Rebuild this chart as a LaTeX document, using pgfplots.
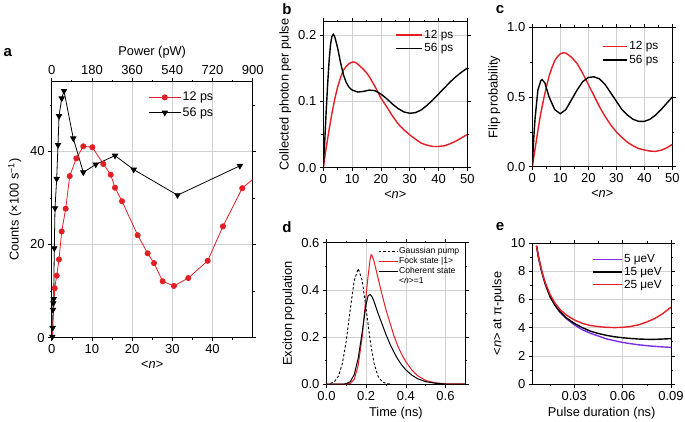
\documentclass[border=0pt]{standalone}
\usepackage{fontspec}
\setmainfont{Liberation Sans}
\usepackage{pgfplots}
\pgfplotsset{compat=1.18}
\definecolor{myred}{RGB}{228,30,37}
\definecolor{mypurple}{RGB}{125,45,225}
\pgfplotsset{
  base/.style={
    scale only axis,
    axis line style={black, line width=0.6pt},
    tick align=outside,
    major tick length=3.5pt,
    minor tick length=2pt,
    every tick/.style={black, line width=0.6pt},
    grid=major,
    major grid style={black!18, line width=0.6pt},
    tick label style={font=\fontsize{13}{13}\selectfont},
    label style={font=\fontsize{12.8}{14}\selectfont},
    /pgf/number format/assume math mode=true,
    legend cell align=left,
    legend style={draw=none, fill=none, inner sep=0pt, font=\fontsize{11.8}{12}\selectfont,
      nodes={inner sep=1.5pt}},
  },
  oneDec/.style={/pgf/number format/fixed, /pgf/number format/fixed zerofill, /pgf/number format/precision=1},
  twoDec/.style={/pgf/number format/fixed, /pgf/number format/fixed zerofill, /pgf/number format/precision=2},
}
\begin{document}
\begin{tikzpicture}
\path[use as bounding box] (0,0) rectangle (685pt,-421pt);

% ---------------- panel a ----------------
\begin{axis}[base, at={(51.7pt,-337.6pt)}, anchor=south west, width=201pt, height=256pt,
  xmin=0, xmax=50, ymin=0, ymax=55,
  xtick={0,10,20,30,40}, minor xtick={5,15,25,35,45},
  ytick={0,20,40}, minor ytick={10,30,50},
  xtick pos=left,
  xlabel={<\textit{n}>}, ylabel={Counts (×100 s\textsuperscript{−1})},
  ylabel style={yshift=2pt},
  legend style={at={(0.48,0.965)}, anchor=north west, font=\fontsize{12.5}{13}\selectfont, row sep=2pt},
  legend image code/.code={\draw[mark repeat=2,mark phase=2,#1] plot coordinates {(0pt,0pt) (16pt,0pt) (32pt,0pt)};},
]
\addplot[myred, line width=0.8pt, mark=*, mark size=2.6pt, mark options={solid, fill=myred, draw=myred}] coordinates {
 (0.75,10.6) (1.24,13.3) (1.82,16.8) (2.49,22.8) (3.48,27.7) (4.48,34.7) (6.12,38.5) (7.86,41.1)
 (10.1,40.9) (12.84,37.3) (14.68,35.0) (15.75,32.2) (17.49,29.3) (21.39,22.0) (23.88,18.1)
 (25.45,16.0) (27.6,12.1) (30.4,11.1) (33.98,12.8) (38.8,16.5) (42.6,23.9) (47.4,32.1)
};
\addlegendentry{12 ps}
\addplot[black, line width=0.8pt, mark=triangle*, mark size=3pt, mark options={solid, rotate=180, fill=black}] coordinates {
 (0.15,0.2) (0.25,2.1) (0.32,6.0) (0.4,7.4) (0.5,8.3) (0.65,19.2) (0.82,27.8) (1.24,34.1)
 (1.57,41.4) (1.82,47.6) (2.49,51.4) (3.06,53.0) (5.37,42.8) (7.86,35.5) (10.95,37.2)
 (15.75,39.1) (20.4,36.1) (31.3,30.6) (46.8,36.9)
};
\addlegendentry{56 ps}
\addplot[myred, line width=0.8pt, forget plot] coordinates {(0.15,0.2) (0.75,10.6)};
\addplot[myred, line width=0.8pt, forget plot] coordinates {(47.4,32.1) (50,34.0)};
\end{axis}
\begin{axis}[base, at={(51.7pt,-337.6pt)}, anchor=south west, width=201pt, height=256pt,
  xmin=0, xmax=900, ymin=0, ymax=55, grid=none,
  axis x line*=top, axis y line=none,
  xtick={0,180,...,900}, minor xtick={90,270,450,630,810},
  xlabel={Power (pW)},
]
\addplot[draw=none, forget plot] coordinates {(0,0) (900,55)};
\end{axis}

% ---------------- panel b ----------------
\begin{axis}[base, at={(323.3pt,-167.7pt)}, anchor=south west, width=144pt, height=146pt,
  xmin=0, xmax=50, ymin=0, ymax=0.22,
  xtick={0,10,...,50}, minor xtick={5,15,...,45},
  ytick={0,0.1,0.2}, minor ytick={0.05,0.15},
  yticklabel style={oneDec},
  xlabel={<\textit{n}>}, ylabel={Collected photon per pulse},
  legend style={at={(0.5,0.955)}, anchor=north west, row sep=1pt},
  legend image code/.code={\draw[#1] (0pt,0pt) -- (26pt,0pt);},
]
\addplot[myred, line width=1.4pt] coordinates {
 (0,0) (1,0.03) (2,0.057) (3,0.082) (4,0.104) (5,0.122) (6,0.136) (7,0.147) (8,0.153) (9,0.157)
 (10,0.159) (11,0.159) (12,0.156) (14,0.148) (15,0.143) (16,0.137) (18,0.122) (20,0.105) (22,0.092)
 (24,0.078) (26,0.066) (28,0.057) (30,0.0495) (32,0.043) (34,0.037) (36,0.034) (38,0.032)
 (40,0.032) (42,0.033) (44,0.036) (46,0.040) (48,0.045) (50,0.050)
};
\addlegendentry{12 ps}
\addplot[black, line width=1.4pt] coordinates {
 (0,0) (0.5,0.04) (1,0.085) (1.5,0.125) (2,0.16) (2.5,0.185) (3,0.198) (3.5,0.201) (4,0.197)
 (5,0.18) (6,0.158) (7,0.14) (8,0.128) (9,0.121) (10,0.117) (12,0.114) (14,0.115) (16,0.117)
 (18,0.116) (20,0.111) (22,0.104) (24,0.096) (26,0.089) (28,0.084) (30,0.082) (32,0.083)
 (34,0.087) (36,0.094) (38,0.102) (40,0.111) (42,0.12) (44,0.129) (46,0.137) (48,0.144) (50,0.150)
};
\addlegendentry{56 ps}
\end{axis}

% ---------------- panel c ----------------
\begin{axis}[base, at={(532.3pt,-166.7pt)}, anchor=south west, width=140pt, height=139.4pt,
  xmin=0, xmax=50, ymin=0, ymax=1,
  xtick={0,10,...,50}, minor xtick={5,15,...,45},
  ytick={0,0.5,1}, minor ytick={0.25,0.75},
  yticklabel style={oneDec},
  xlabel={<\textit{n}>}, ylabel={Flip probability},
  legend style={at={(0.5,0.91)}, anchor=north west, row sep=1pt},
  legend image code/.code={\draw[#1] (0pt,0pt) -- (24pt,0pt);},
]
\addplot[myred, line width=1.4pt] coordinates {
 (0,0) (1,0.13) (2,0.26) (3,0.38) (4,0.48) (5,0.57) (6,0.65) (7,0.71) (8,0.76) (9,0.79) (10,0.81)
 (11,0.817) (12,0.815) (13,0.80) (14,0.785) (16,0.74) (18,0.67) (20,0.59) (22,0.51) (24,0.43)
 (26,0.36) (28,0.30) (30,0.25) (32,0.21) (34,0.175) (36,0.15) (38,0.13) (40,0.12) (42,0.112)
 (44,0.11) (46,0.118) (48,0.135) (50,0.16)
};
\addlegendentry{12 ps}
\addplot[black, line width=1.4pt] coordinates {
 (0,0) (0.5,0.2) (1,0.35) (2,0.55) (3,0.615) (3.5,0.625) (4.5,0.6) (6,0.5) (8,0.41) (10,0.38)
 (12,0.41) (14,0.48) (16,0.55) (18,0.61) (20,0.64) (22,0.645) (24,0.63) (26,0.59) (28,0.53)
 (30,0.47) (32,0.41) (34,0.37) (36,0.34) (38,0.325) (40,0.325) (42,0.34) (44,0.37) (46,0.41)
 (48,0.455) (50,0.5)
};
\addlegendentry{56 ps}
\end{axis}

% ---------------- panel d ----------------
\begin{axis}[base, at={(326.5pt,-384pt)}, anchor=south west, width=138.8pt, height=141.3pt,
  xmin=0, xmax=0.7, ymin=0, ymax=0.6,
  xtick={0,0.2,0.4,0.6}, minor xtick={0.1,0.3,0.5},
  ytick={0,0.2,0.4,0.6}, minor ytick={0.1,0.3,0.5},
  xticklabel style={oneDec}, yticklabel style={oneDec},
  xlabel={Time (ns)}, ylabel={Exciton population},
  legend style={at={(0.37,0.975)}, anchor=north west, font=\fontsize{8.6}{9}\selectfont, row sep=0.3pt,
    nodes={inner sep=1pt}},
  legend image code/.code={\draw[#1] (0pt,0pt) -- (19pt,0pt);},
]
\addplot[black, line width=0.9pt, dash pattern=on 2.5pt off 2pt] coordinates {
 (0.02,0.0024) (0.04,0.010) (0.06,0.033) (0.08,0.087) (0.10,0.185) (0.12,0.318) (0.14,0.44)
 (0.16,0.49) (0.18,0.44) (0.20,0.318) (0.22,0.185) (0.24,0.087) (0.26,0.033) (0.28,0.010) (0.30,0.0024) (0.32,0.0)
};
\addlegendentry{Gaussian pump}
\addplot[myred, line width=1pt] coordinates {
 (0,0) (0.10,0) (0.12,0.003) (0.14,0.02) (0.16,0.08) (0.18,0.2) (0.20,0.38) (0.21,0.46) (0.22,0.53)
 (0.225,0.549) (0.23,0.545) (0.24,0.52) (0.26,0.45) (0.28,0.38) (0.30,0.315) (0.32,0.26)
 (0.34,0.205) (0.36,0.16) (0.38,0.125) (0.40,0.095) (0.43,0.06) (0.46,0.035) (0.50,0.015)
 (0.55,0.005) (0.60,0.001) (0.70,0)
};
\addlegendentry{Fock state |1>}
\addplot[black, line width=1pt] coordinates {
 (0,0) (0.09,0) (0.10,0.002) (0.12,0.01) (0.14,0.04) (0.16,0.11) (0.18,0.22) (0.20,0.34) (0.21,0.375)
 (0.22,0.38) (0.23,0.37) (0.24,0.35) (0.26,0.30) (0.28,0.255) (0.30,0.21) (0.32,0.17)
 (0.34,0.135) (0.36,0.105) (0.38,0.08) (0.40,0.06) (0.43,0.038) (0.46,0.022) (0.50,0.01)
 (0.55,0.003) (0.60,0.0) (0.70,0)
};
\addlegendentry{Coherent state}
\addlegendimage{empty legend}
\addlegendentry{<\textit{n}>=1}
\end{axis}

% ---------------- panel e ----------------
\begin{axis}[base, at={(532.3pt,-384pt)}, anchor=south west, width=138.7pt, height=141pt,
  xmin=0.004, xmax=0.09, ymin=0, ymax=10,
  xtick={0.03,0.06,0.09}, minor xtick={0.015,0.045,0.075},
  ytick={0,2,...,10}, minor ytick={1,3,...,9},
  scaled x ticks=false,
  xticklabel style={twoDec},
  xlabel={Pulse duration (ns)}, ylabel={<\textit{n}> at π-pulse},
  legend style={at={(0.43,0.93)}, anchor=north west, row sep=0pt},
  legend image code/.code={\draw[#1] (0pt,0pt) -- (29pt,0pt);},
]
\addplot[mypurple, line width=1.4pt] coordinates {
 (0.0066,9.8) (0.008,8.9) (0.010,7.9) (0.012,7.1) (0.015,6.2) (0.018,5.6) (0.021,5.1) (0.025,4.65)
 (0.03,4.2) (0.035,3.85) (0.04,3.6) (0.045,3.4) (0.05,3.2) (0.055,3.07) (0.06,2.95) (0.065,2.86)
 (0.07,2.78) (0.075,2.72) (0.08,2.67) (0.085,2.63) (0.09,2.6)
};
\addlegendentry{5 μeV}
\addplot[black, line width=1.4pt] coordinates {
 (0.0066,9.8) (0.008,8.9) (0.010,7.9) (0.012,7.1) (0.015,6.2) (0.018,5.6) (0.021,5.15) (0.025,4.7)
 (0.03,4.3) (0.035,4.0) (0.04,3.75) (0.045,3.58) (0.05,3.45) (0.055,3.35) (0.06,3.28) (0.065,3.23)
 (0.07,3.19) (0.075,3.17) (0.08,3.17) (0.085,3.19) (0.09,3.22)
};
\addlegendentry{15 μeV}
\addplot[myred, line width=1.4pt] coordinates {
 (0.0066,9.8) (0.008,8.9) (0.010,7.95) (0.012,7.2) (0.015,6.35) (0.018,5.75) (0.021,5.3) (0.025,4.9)
 (0.03,4.55) (0.035,4.3) (0.04,4.15) (0.045,4.07) (0.05,4.02) (0.055,4.0) (0.06,4.02) (0.065,4.08)
 (0.07,4.2) (0.075,4.4) (0.08,4.65) (0.085,5.0) (0.09,5.45)
};
\addlegendentry{25 μeV}
\end{axis}

% panel letters
\node[font=\fontsize{15}{15}\selectfont\bfseries, anchor=west] at (0pt,-53pt) {a};
\node[font=\fontsize{15}{15}\selectfont\bfseries] at (287pt,-9pt) {b};
\node[font=\fontsize{15}{15}\selectfont\bfseries] at (500pt,-10pt) {c};
\node[font=\fontsize{15}{15}\selectfont\bfseries] at (287pt,-227pt) {d};
\node[font=\fontsize{15}{15}\selectfont\bfseries] at (500pt,-227pt) {e};
\end{tikzpicture}
\end{document}
